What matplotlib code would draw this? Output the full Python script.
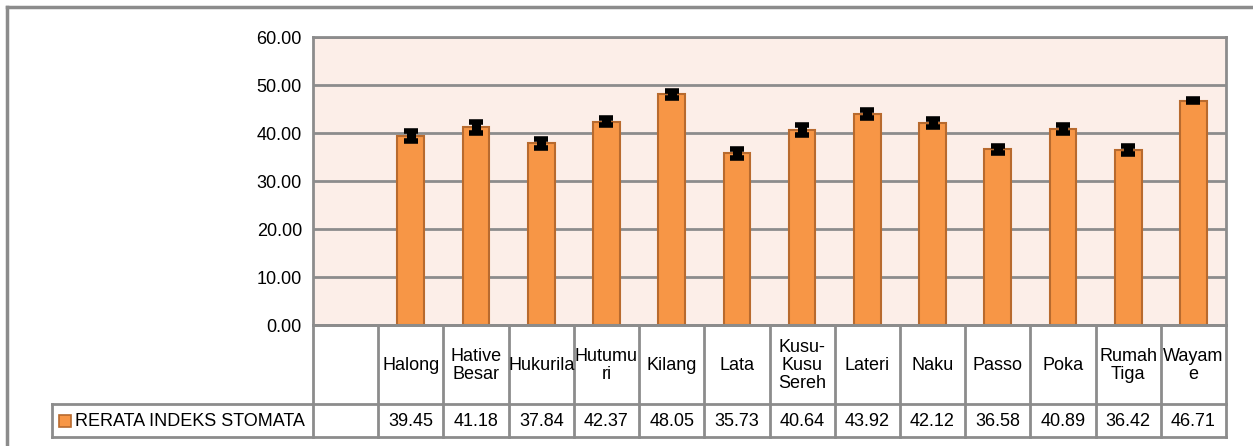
import numpy as np
import matplotlib
matplotlib.use("Agg")
import matplotlib.pyplot as plt
from matplotlib.lines import Line2D
from matplotlib.patches import Rectangle

categories = ["", "Halong", "Hative\nBesar", "Hukurila", "Hutumu\nri", "Kilang", "Lata",
              "Kusu-\nKusu\nSereh", "Lateri", "Naku", "Passo", "Poka", "Rumah\nTiga", "Wayam\ne"]
values = [np.nan, 39.45, 41.18, 37.84, 42.37, 48.05, 35.73, 40.64, 43.92, 42.12, 36.58, 40.89, 36.42, 46.71]
errors = [np.nan, 1.05, 1.1, 0.9, 0.7, 0.75, 0.9, 1.1, 0.85, 0.9, 0.65, 0.85, 0.8, 0.35]
series_name = "RERATA INDEKS STOMATA"
yticks = [0, 10, 20, 30, 40, 50, 60]

W, H = 1253, 446
FONT = ["Liberation Sans", "DejaVu Sans"]
FS = 13
plt.rcParams["font.family"] = FONT

BAR = "#F79646"
BAREDGE = "#B86A2E"
BG = "#FCEEE8"
GRID = "#8C8C8C"

fig = plt.figure(figsize=(W / 100, H / 100), dpi=100)

def fx(px):
    return px / W

def fy(py):
    return 1 - py / H

L, R, T, B = 313, 1226, 37, 325
ax = fig.add_axes([fx(L), fy(B), fx(R) - fx(L), fy(T) - fy(B)])
n = len(categories)
x = np.arange(n)
ax.set_xlim(-0.5, n - 0.5)
ax.set_ylim(0, 60)
ax.set_facecolor(BG)
ax.set_axisbelow(True)
ax.yaxis.grid(True, color=GRID, linewidth=2)
ax.set_yticks(yticks)
ax.set_yticklabels([f"{v:.2f}" for v in yticks], fontsize=FS)
ax.tick_params(axis="y", length=0, pad=8)
ax.set_xticks([])
for s in ax.spines.values():
    s.set_color(GRID)
    s.set_linewidth(2)

ax.bar(x, values, width=0.41, color=BAR, edgecolor=BAREDGE, linewidth=1.5, zorder=2)
ax.errorbar(x, values, yerr=errors, fmt="none", ecolor="black", elinewidth=6.5,
            capsize=4.8, capthick=4, zorder=3)

# data table
tb_top, tb_mid, tb_bot = 325, 404, 437
tab = fig.add_axes([fx(L), fy(tb_bot), fx(R) - fx(L), fy(tb_top) - fy(tb_bot)])
tab.set_xlim(-0.5, n - 0.5)
tab.set_ylim(tb_bot - tb_top, 0)
tab.axis("off")
colw = (R - L) / n
leg_left = -0.5 + (52 - L) / colw
lw = 2
lc = "#8C8C8C"
tab.plot([-0.5, n - 0.5], [0, 0], color=lc, lw=lw, clip_on=False)
tab.plot([leg_left, n - 0.5], [tb_mid - tb_top, tb_mid - tb_top], color=lc, lw=lw, clip_on=False)
tab.plot([leg_left, n - 0.5], [tb_bot - tb_top, tb_bot - tb_top], color=lc, lw=lw, clip_on=False)
for i in range(n + 1):
    tab.plot([i - 0.5, i - 0.5], [0, tb_bot - tb_top], color=lc, lw=lw, clip_on=False)
tab.plot([leg_left, leg_left], [tb_mid - tb_top, tb_bot - tb_top], color=lc, lw=lw, clip_on=False)

hmid = (tb_mid - tb_top) / 2
vmid = (tb_mid - tb_top + tb_bot - tb_top) / 2
for i, (c, v) in enumerate(zip(categories, values)):
    if c:
        tab.text(i, hmid + 1, c, ha="center", va="center", fontsize=FS,
                 linespacing=1.05, clip_on=False)
    if not np.isnan(v):
        tab.text(i, vmid + 1, f"{v:.2f}", ha="center", va="center", fontsize=FS, clip_on=False)

sw_l = -0.5 + (59 - L) / colw
sw_w = 12 / colw
tab.add_patch(Rectangle((sw_l, vmid - 6), sw_w, 12, facecolor=BAR, edgecolor=BAREDGE,
                        lw=1.2, clip_on=False))
tab.text(-0.5 + (75 - L) / colw, vmid + 1, series_name, ha="left", va="center",
         fontsize=FS, clip_on=False)

fig.add_artist(Line2D([fx(7), 1], [fy(7), fy(7)], color=GRID, lw=2.5))
fig.add_artist(Line2D([fx(7), fx(7)], [fy(7), 0], color=GRID, lw=2.5))

fig.savefig("out.png", dpi=100, facecolor="white")
